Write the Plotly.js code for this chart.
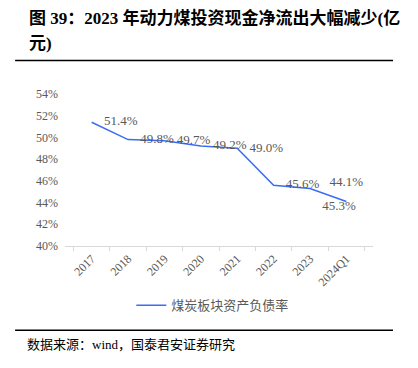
<!DOCTYPE html>
<html><head><meta charset="utf-8">
<script src="https://cdn.plot.ly/plotly-3.0.1.min.js"></script>
<style>html,body{margin:0;padding:0;background:#fff;}#chart{width:418px;height:368px;}</style>
</head><body><div id="chart"></div>
<script>
const categories = ["2017","2018","2019","2020","2021","2022","2023","2024Q1"];
const ratioValues = [51.4, 49.8, 49.7, 49.2, 49.0, 45.6, 45.3, 44.1];
const valueLabels = ["51.4%","49.8%","49.7%","49.2%","49.0%","45.6%","45.3%","44.1%"];
const yTickVals = [40,42,44,46,48,50,52,54];
const yTickText = ["40%","42%","44%","46%","48%","50%","52%","54%"];
const seriesName = "煤炭板块资产负债率";
const labelPositions = ["middle right","middle right","middle right","middle right","middle right","middle right","bottom right","top center"];

const serif = "'Liberation Serif','Times New Roman','Noto Sans CJK SC',serif";
const trace = {
  x: categories, y: ratioValues, type: 'scatter', mode: 'lines+markers+text',
  name: seriesName,
  line: {color: '#3a6cf4', width: 1.5},
  marker: {size: 18, color: 'rgba(0,0,0,0)', line: {width: 0}},
  text: valueLabels, textposition: labelPositions,
  textfont: {family: serif, size: 13, color: '#595959'},
  cliponaxis: false
};
const layout = {
  width: 418, height: 368,
  margin: {l: 65, r: 45, t: 94, b: 122},
  paper_bgcolor: '#fff', plot_bgcolor: '#fff',
  showlegend: true,
  legend: {orientation: 'h', x: 0.48, xanchor: 'center', y: -0.39, yanchor: 'middle',
           font: {family: "'Noto Sans CJK SC',sans-serif", size: 13, color: '#595959'}},
  xaxis: {type: 'category', showline: true, linecolor: '#d9d9d9', linewidth: 1,
          ticks: 'outside', tickson: 'boundaries', ticklen: 4, tickcolor: '#d9d9d9',
          tickangle: -45, tickfont: {family: serif, size: 12, color: '#595959'},
          showgrid: false, zeroline: false, fixedrange: true},
  yaxis: {range: [40, 54], tickvals: yTickVals, ticktext: yTickText, showgrid: false,
          zeroline: false, showline: false, ticks: '', ticklabelstandoff: 6,
          tickfont: {family: serif, size: 12, color: '#595959'}},
  shapes: [
    {type: 'line', xref: 'paper', yref: 'paper', x0: -0.162, x1: 1.065, y0: 1.22, y1: 1.22, line: {color: '#000', width: 1.5}},
    {type: 'line', xref: 'paper', yref: 'paper', x0: -0.162, x1: 1.065, y0: -0.555, y1: -0.555, line: {color: '#000', width: 1.5}}
  ],
  annotations: [
    {xref: 'paper', yref: 'paper', x: -0.125, y: 1.50, xanchor: 'left', yanchor: 'middle', showarrow: false,
     text: '<b>图 39：2023 年动力煤投资现金净流出大幅减少(亿</b>', font: {family: serif, size: 17, color: '#000'}},
    {xref: 'paper', yref: 'paper', x: -0.125, y: 1.335, xanchor: 'left', yanchor: 'middle', showarrow: false,
     text: '<b>元)</b>', font: {family: serif, size: 17, color: '#000'}},
    {xref: 'paper', yref: 'paper', x: -0.13, y: -0.65, xanchor: 'left', yanchor: 'middle', showarrow: false,
     text: '数据来源：wind，国泰君安证券研究', font: {family: serif, size: 13, color: '#000'}}
  ]
};
Plotly.newPlot('chart', [trace], layout, {staticPlot: true, displayModeBar: false});
</script></body></html>
